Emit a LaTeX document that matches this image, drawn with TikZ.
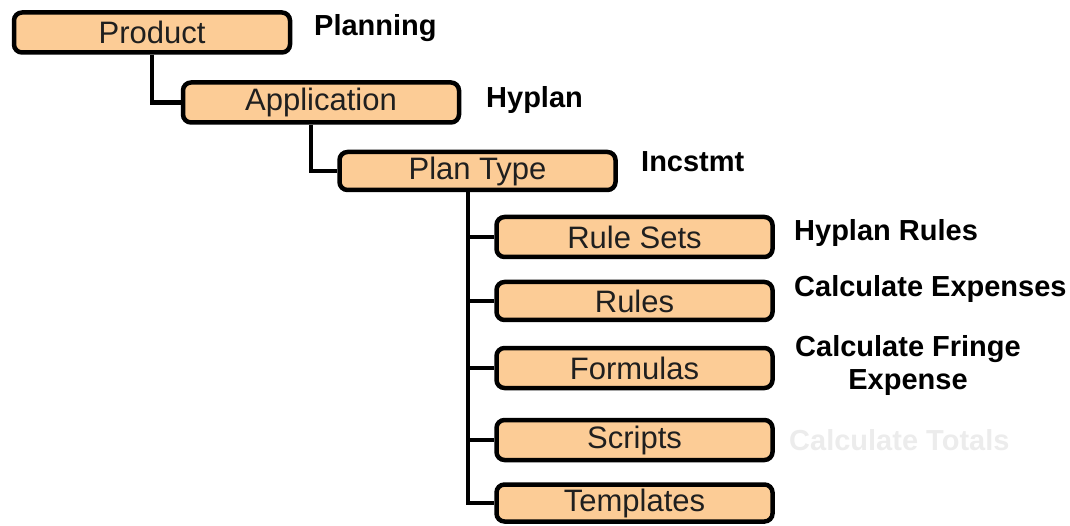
\documentclass[tikz,border=0pt]{standalone}
\usepackage{fontspec}
\setmainfont{Liberation Sans}
\definecolor{boxfill}{RGB}{252,204,150}
\definecolor{ghost}{RGB}{236,236,236}
\begin{document}
\begin{tikzpicture}[x=1pt,y=-1pt,
  box/.style={draw=black, line width=4.5pt, fill=boxfill, rounded corners=8pt,
    minimum width=276pt, minimum height=40pt, inner sep=0pt,
    font=\fontsize{31}{34}\selectfont, text=black!88},
  lab/.style={anchor=west, font=\fontsize{29}{33}\selectfont\bfseries, inner sep=0pt},
  conn/.style={line width=4.5pt, black}]
\useasboundingbox (0,0) rectangle (1070,526);
\node[box] (prod) at (152,32.5) {Product};
\node[box] (app) at (321,102.5) {Application};
\node[box, minimum height=38pt] (pt) at (477.5,171) {Plan Type};
\node[box] (rs) at (634.5,237) {Rule Sets};
\node[box, minimum height=38pt] (ru) at (634.5,301) {Rules};
\node[box] (fo) at (634.5,368) {Formulas};
\node[box] (sc) at (634.5,440) {Scripts};
\node[box, minimum height=37pt] (tp) at (634.5,503) {Templates};
\draw[conn] (prod.south) |- (app.west);
\draw[conn] ([xshift=-10pt]app.south) |- (pt.west);
\foreach \n in {rs,ru,fo,sc,tp}
  \draw[conn] ([xshift=-9.5pt]pt.south) |- (\n.west);
\node[lab] (l1) at (314,28) {Planning};
\node[lab] (l2) at (486,100) {Hyplan};
\node[lab] (l3) at (641,162) {Incstmt};
\node[lab] (l4) at (794,233) {Hyplan Rules};
\node[lab] (l5) at (794,289) {Calculate Expenses};
\node[lab, anchor=center, align=center] (l6) at (908,366) {Calculate Fringe\\Expense};
\node[lab, text=ghost] (l7) at (789,440) {Calculate Totals};
\end{tikzpicture}
\end{document}
